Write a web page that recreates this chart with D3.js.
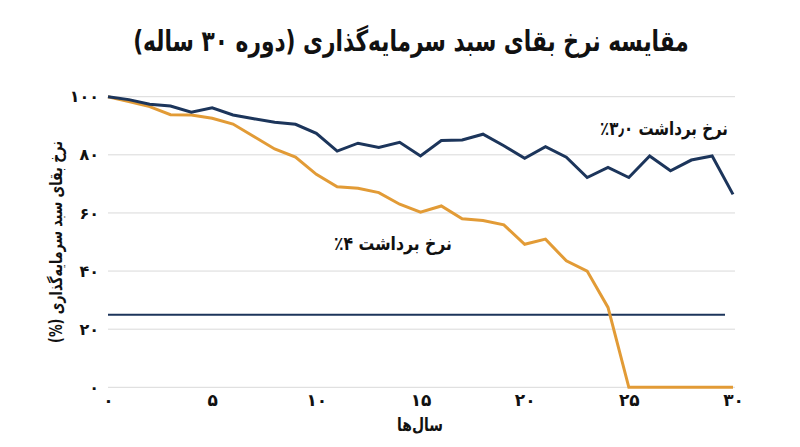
<!DOCTYPE html>
<html>
<head>
<meta charset="utf-8">
<script src="https://cdn.jsdelivr.net/npm/d3@7"></script>
<style>
  body { margin: 0; background: #fff; }
  svg { display: block; }
  text { font-family: "DejaVu Sans", sans-serif; }
</style>
</head>
<body>
<script>
// years 0..30
const years = [0, 1, 2, 3, 4, 5, 6, 7, 8, 9, 10, 11, 12, 13, 14, 15, 16, 17, 18, 19, 20, 21, 22, 23, 24, 25, 26, 27, 28, 29, 30];
// survival rate (%) - 3.0% withdrawal
const rate30 = [100, 99, 97.4, 96.8, 94.7, 96.2, 93.7, 92.4, 91.2, 90.5, 87.4, 81.3, 84, 82.5, 84.3, 79.6, 84.9, 85.1, 87.1, 83.1, 78.8, 82.8, 79.2, 72.2, 75.7, 72.2, 79.6, 74.5, 78.2, 79.6, 66.4];
// survival rate (%) - 4% withdrawal
const rate40 = [100, 98.3, 96.6, 93.8, 93.7, 92.6, 90.6, 86.3, 82, 79.2, 73.3, 69, 68.5, 67, 63, 60.3, 62.4, 58, 57.4, 55.9, 49.2, 51, 43.5, 40, 27.5, 0, 0, 0, 0, 0, 0];
const thresholdValue = 25;
const xTicks = [0, 5, 10, 15, 20, 25, 30];
const yTicks = [0, 20, 40, 60, 80, 100];

const titleText = 'مقایسه نرخ بقای سبد سرمایه‌گذاری (دوره ۳۰ ساله)';
const xTitle = 'سال‌ها';
const yTitle = 'نرخ بقای سبد سرمایه‌گذاری (%)';
const label30 = 'نرخ برداشت ۳٫۰٪';
const label40 = 'نرخ برداشت ۴٪';

const navy = '#1c355b';
const orange = '#e29b36';

const W = 800, H = 447;
const faDigits = '۰۱۲۳۴۵۶۷۸۹';
const fa = n => String(n).replace(/\d/g, c => faDigits[+c]);

const svg = d3.select('body').append('svg')
  .attr('width', W)
  .attr('height', H);

const x = d3.scaleLinear().domain([0, 30]).range([108, 733]);
const y = d3.scaleLinear().domain([0, 100]).range([387.3, 96.7]);

// grid
svg.append('g')
  .selectAll('line')
  .data(yTicks)
  .join('line')
  .attr('x1', x(0))
  .attr('x2', 735)
  .attr('y1', d => y(d))
  .attr('y2', d => y(d))
  .attr('stroke', '#d9d9d9')
  .attr('stroke-width', 1);

// y tick labels
const yAxis = svg.append('g')
  .attr('transform', 'translate(99,0)')
  .call(d3.axisLeft(y).tickValues(yTicks).tickSize(0).tickPadding(0).tickFormat(fa));
yAxis.select('.domain').remove();
yAxis.selectAll('text')
  .attr('font-size', 16)
  .attr('font-weight', 'bold')
  .attr('fill', '#111')
  .attr('font-family', 'DejaVu Sans');

// x tick labels
const xAxis = svg.append('g')
  .attr('transform', 'translate(0,394)')
  .call(d3.axisBottom(x).tickValues(xTicks).tickSize(0).tickPadding(0).tickFormat(fa));
xAxis.select('.domain').remove();
xAxis.selectAll('text')
  .attr('font-size', 17)
  .attr('font-weight', 'bold')
  .attr('fill', '#111')
  .attr('font-family', 'DejaVu Sans');

// threshold line
svg.append('line')
  .attr('x1', x(0))
  .attr('x2', 725)
  .attr('y1', y(thresholdValue))
  .attr('y2', y(thresholdValue))
  .attr('stroke', navy)
  .attr('stroke-width', 2);

const line = d3.line()
  .x((d, i) => x(years[i]))
  .y(d => y(d));

svg.append('path')
  .datum(rate40)
  .attr('d', line)
  .attr('fill', 'none')
  .attr('stroke', orange)
  .attr('stroke-width', 3)
  .attr('stroke-linejoin', 'miter');

svg.append('path')
  .datum(rate30)
  .attr('d', line)
  .attr('fill', 'none')
  .attr('stroke', navy)
  .attr('stroke-width', 3)
  .attr('stroke-linejoin', 'miter');

// text squeezed horizontally to a target width, keeping the glyph height
function label(text, cx, cy, size, width, angle) {
  const t = svg.append('text')
    .attr('text-anchor', 'middle')
    .attr('dominant-baseline', 'central')
    .attr('direction', 'rtl')
    .attr('font-size', size)
    .attr('font-weight', 'bold')
    .attr('fill', '#111')
    .text(text);
  const sx = Math.min(1, width / t.node().getComputedTextLength());
  t.attr('transform', `translate(${cx},${cy}) rotate(${angle || 0}) scale(${sx},1)`);
  return t;
}

// series labels
label(label30, 664, 128, 19, 128);
label(label40, 393, 243, 19, 118);

// title
label(titleText, 411, 41, 29, 556);

// axis titles
label(xTitle, 420, 425, 18, 46);
label(yTitle, 56, 242, 17, 202, -90);
</script>
</body>
</html>
